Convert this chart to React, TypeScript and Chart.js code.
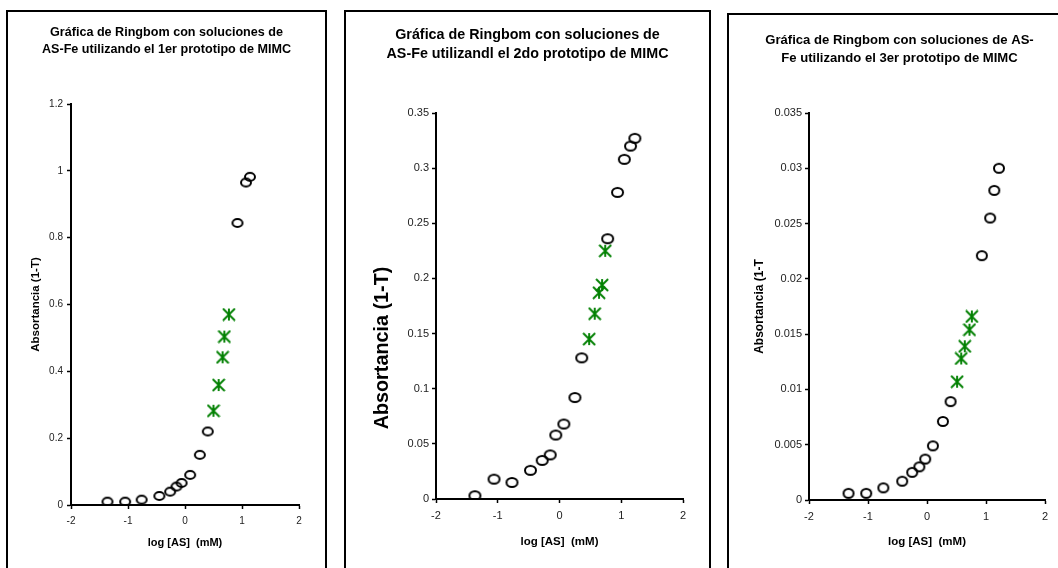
import React, { useEffect, useRef } from 'react';
import { Chart, registerables } from 'chart.js';

Chart.register(...registerables);

// ---------- data ----------
const xTicks = [-2, -1, 0, 1, 2];
const xTickLabels = ['-2', '-1', '0', '1', '2'];
const xTitle = 'log [AS]  (mM)';

const p1Title = ['Gráfica de Ringbom con soluciones de', 'AS-Fe utilizando el 1er prototipo de MIMC'];
const p1YTitle = 'Absortancia (1-T)';
const p1YTicks = [0, 0.2, 0.4, 0.6, 0.8, 1, 1.2];
const p1YTickLabels = ['0', '0.2', '0.4', '0.6', '0.8', '1', '1.2'];
const p1CircleX = [-1.36, -1.05, -0.76, -0.45, -0.26, -0.15, -0.06, 0.09, 0.26, 0.40, 0.92, 1.07, 1.14];
const p1CircleY = [0.010, 0.010, 0.016, 0.027, 0.040, 0.055, 0.066, 0.090, 0.150, 0.220, 0.844, 0.965, 0.982];
const p1StarX = [0.50, 0.59, 0.66, 0.69, 0.77];
const p1StarY = [0.282, 0.359, 0.442, 0.504, 0.570];

const p2Title = ['Gráfica de Ringbom con soluciones de', 'AS-Fe utilizandl el 2do prototipo de MIMC'];
const p2YTitle = 'Absortancia (1-T)';
const p2YTicks = [0, 0.05, 0.1, 0.15, 0.2, 0.25, 0.3, 0.35];
const p2YTickLabels = ['0', '0.05', '0.1', '0.15', '0.2', '0.25', '0.3', '0.35'];
const p2CircleX = [-1.37, -1.06, -0.77, -0.47, -0.28, -0.15, -0.06, 0.07, 0.25, 0.36, 0.78, 0.94, 1.05, 1.15, 1.22];
const p2CircleY = [0.003, 0.018, 0.015, 0.026, 0.035, 0.040, 0.058, 0.068, 0.092, 0.128, 0.236, 0.278, 0.308, 0.320, 0.327];
const p2StarX = [0.48, 0.57, 0.64, 0.69, 0.74];
const p2StarY = [0.145, 0.168, 0.187, 0.194, 0.225];

const p3Title = ['Gráfica de Ringbom con soluciones de AS-', 'Fe utilizando el 3er prototipo de MIMC'];
const p3YTitle = 'Absortancia (1-T';
const p3YTicks = [0, 0.005, 0.01, 0.015, 0.02, 0.025, 0.03, 0.035];
const p3YTickLabels = ['0', '0.005', '0.01', '0.015', '0.02', '0.025', '0.03', '0.035'];
const p3CircleX = [-1.33, -1.03, -0.74, -0.42, -0.25, -0.13, -0.03, 0.10, 0.27, 0.40, 0.93, 1.07, 1.14, 1.22];
const p3CircleY = [0.0006, 0.0006, 0.0011, 0.0017, 0.0025, 0.0030, 0.0037, 0.0049, 0.0071, 0.0089, 0.0221, 0.0255, 0.0280, 0.0300];
const p3StarX = [0.51, 0.58, 0.64, 0.72, 0.76];
const p3StarY = [0.0107, 0.0128, 0.0139, 0.0154, 0.0166];

// ---------- layout / style ----------
const FAMILY = '"Liberation Sans", Arial, Helvetica, sans-serif';
const GREEN = '#008000';

type Panel = {
  title: string[]; yTitle: string; yTicks: number[]; yTickLabels: string[]; yMax: number;
  cx: number[]; cy: number[]; sx: number[]; sy: number[];
  box: { left: number; top: number; width: number };
  canvas: { left: number; top: number; width: number; height: number };
  area: { left: number; right: number; top: number; bottom: number };
  titleFont: number; titleLH: number; titlePadTop: number;
  tickFont: number; tickPad: number; xTickPad: number;
  yTitleFont: number; yTitleX: number; yTitleY: number | null;
  xTitleFont: number; xTitleCenterFromBottom: number;
  circle: [number, number];
};

const panels: Panel[] = [
  {
    title: p1Title, yTitle: p1YTitle, yTicks: p1YTicks, yTickLabels: p1YTickLabels, yMax: 1.2,
    cx: p1CircleX, cy: p1CircleY, sx: p1StarX, sy: p1StarY,
    box: { left: 6, top: 10, width: 321 },
    canvas: { left: 8, top: 12, width: 317, height: 556 },
    area: { left: 63, right: 291, top: 92, bottom: 493 },
    titleFont: 12.6, titleLH: 17, titlePadTop: 12.5,
    tickFont: 10, tickPad: 4, xTickPad: 6,
    yTitleFont: 11.5, yTitleX: 28, yTitleY: null,
    xTitleFont: 11, xTitleCenterFromBottom: 25,
    circle: [12, 10],
  },
  {
    title: p2Title, yTitle: p2YTitle, yTicks: p2YTicks, yTickLabels: p2YTickLabels, yMax: 0.35,
    cx: p2CircleX, cy: p2CircleY, sx: p2StarX, sy: p2StarY,
    box: { left: 344, top: 10, width: 367 },
    canvas: { left: 346, top: 12, width: 363, height: 556 },
    area: { left: 90, right: 337, top: 101, bottom: 487 },
    titleFont: 14.3, titleLH: 19.5, titlePadTop: 13,
    tickFont: 11, tickPad: 3, xTickPad: 6,
    yTitleFont: 19.8, yTitleX: 37, yTitleY: 336,
    xTitleFont: 11.5, xTitleCenterFromBottom: 26.3,
    circle: [13, 11],
  },
  {
    title: p3Title, yTitle: p3YTitle, yTicks: p3YTicks, yTickLabels: p3YTickLabels, yMax: 0.035,
    cx: p3CircleX, cy: p3CircleY, sx: p3StarX, sy: p3StarY,
    box: { left: 727, top: 13, width: 400 },
    canvas: { left: 729, top: 15, width: 341, height: 553 },
    area: { left: 80, right: 316, top: 98, bottom: 485 },
    titleFont: 13.1, titleLH: 18, titlePadTop: 16,
    tickFont: 11, tickPad: 3, xTickPad: 6,
    yTitleFont: 12, yTitleX: 31, yTitleY: null,
    xTitleFont: 11.5, xTitleCenterFromBottom: 26.3,
    circle: [12, 11],
  },
];

function ellipseMarker(w: number, h: number, lw: number) {
  const c = document.createElement('canvas');
  c.width = w + 2; c.height = h + 2;
  const ctx = c.getContext('2d')!;
  ctx.strokeStyle = '#000';
  ctx.lineWidth = lw;
  ctx.beginPath();
  ctx.ellipse(c.width / 2, c.height / 2, w / 2 - lw / 2, h / 2 - lw / 2, 0, 0, Math.PI * 2);
  ctx.stroke();
  return c;
}

function starMarker(w: number, h: number, lw: number) {
  const c = document.createElement('canvas');
  c.width = w + 2; c.height = h + 2;
  const ctx = c.getContext('2d')!;
  ctx.strokeStyle = GREEN;
  ctx.lineWidth = lw;
  ctx.lineCap = 'butt';
  const x0 = 1, y0 = 1, x1 = 1 + w, y1 = 1 + h;
  ctx.beginPath();
  ctx.moveTo(x0, y0); ctx.lineTo(x1, y1);
  ctx.moveTo(x1, y0); ctx.lineTo(x0, y1);
  ctx.moveTo((x0 + x1) / 2, y0); ctx.lineTo((x0 + x1) / 2, y1);
  ctx.stroke();
  return c;
}

// draws the rotated y-axis title at a given centre (canvas coords)
const yTitlePlugin = {
  id: 'yTitleText',
  afterDraw(chart: any, _args: any, opts: any) {
    if (!opts || !opts.text) return;
    const ctx = chart.ctx;
    const area = chart.chartArea;
    const cy = opts.y == null ? (area.top + area.bottom) / 2 : opts.y;
    ctx.save();
    ctx.translate(opts.x, cy);
    ctx.rotate(-Math.PI / 2);
    ctx.font = `bold ${opts.size}px ${FAMILY}`;
    ctx.fillStyle = '#000';
    ctx.textAlign = 'center';
    ctx.textBaseline = 'middle';
    ctx.fillText(opts.text, 0, 0);
    ctx.restore();
  },
};

function makeConfig(p: Panel): any {
  const xAxisH = p.canvas.height - p.area.bottom;
  const rightW = p.canvas.width - p.area.right;
  const titleBlock = p.titleLH * p.title.length;
  const titlePadBottom = p.area.top - p.titlePadTop - titleBlock;
  const xLH = p.xTitleFont * 1.2;
  const circleImg = ellipseMarker(p.circle[0], p.circle[1], 2);
  const starImg = starMarker(12, 12, 1.9);
  const tickFont = { family: FAMILY, size: p.tickFont };
  return {
    type: 'scatter',
    data: {
      datasets: [
        {
          data: p.cx.map((x, i) => ({ x, y: p.cy[i] })),
          pointStyle: circleImg, pointRadius: 5, showLine: false,
        },
        {
          data: p.sx.map((x, i) => ({ x, y: p.sy[i] })),
          pointStyle: starImg, pointRadius: 5, showLine: false,
        },
      ],
    },
    options: {
      responsive: false,
      animation: false,
      events: [],
      devicePixelRatio: 1,
      layout: { padding: 0 },
      plugins: {
        legend: { display: false },
        tooltip: { enabled: false },
        title: {
          display: true,
          text: p.title,
          color: '#000',
          font: { family: FAMILY, size: p.titleFont, weight: 'bold', lineHeight: p.titleLH + 'px' },
          padding: { top: p.titlePadTop, bottom: titlePadBottom },
        },
        yTitleText: { text: p.yTitle, size: p.yTitleFont, x: p.yTitleX, y: p.yTitleY },
      },
      scales: {
        x: {
          type: 'linear', position: 'bottom', min: -2, max: 2,
          afterBuildTicks: (s: any) => { s.ticks = xTicks.map((v) => ({ value: v })); },
          afterFit: (s: any) => { s.height = xAxisH; },
          ticks: {
            callback: (_v: any, i: number) => xTickLabels[i],
            font: tickFont, color: '#222', padding: p.xTickPad, maxRotation: 0, autoSkip: false,
          },
          grid: { display: true, drawOnChartArea: false, drawTicks: true, tickLength: 4, tickWidth: 1.5, tickColor: '#000' },
          border: { display: true, color: '#000', width: 2 },
          title: {
            display: true, text: xTitle, color: '#000',
            font: { family: FAMILY, size: p.xTitleFont, weight: 'bold', lineHeight: 1.2 },
            padding: { top: 0, bottom: p.xTitleCenterFromBottom - xLH / 2 },
          },
        },
        y: {
          type: 'linear', position: 'left', min: 0, max: p.yMax,
          afterBuildTicks: (s: any) => { s.ticks = p.yTicks.map((v) => ({ value: v })); },
          afterFit: (s: any) => { s.width = p.area.left; },
          ticks: {
            callback: (_v: any, i: number) => p.yTickLabels[i],
            font: tickFont, color: '#222', padding: p.tickPad, autoSkip: false,
          },
          grid: { display: true, drawOnChartArea: false, drawTicks: true, tickLength: 4, tickWidth: 1.5, tickColor: '#000' },
          border: { display: true, color: '#000', width: 2 },
          title: { display: false },
        },
        // empty right-hand spacer so the title stays centred on the whole panel
        spacer: {
          type: 'linear', position: 'right', min: 0, max: 1, display: true,
          afterFit: (s: any) => { s.width = rightW; },
          ticks: { display: false },
          grid: { display: false, drawTicks: false },
          border: { display: false },
          title: { display: false },
        },
      },
    },
    plugins: [yTitlePlugin],
  };
}

export default function App() {
  const refs = [useRef<HTMLCanvasElement>(null), useRef<HTMLCanvasElement>(null), useRef<HTMLCanvasElement>(null)];

  useEffect(() => {
    const charts = panels.map((p, i) => new Chart(refs[i].current!, makeConfig(p)));
    return () => charts.forEach((c) => c.destroy());
  }, []);

  return (
    <div style={{ position: 'absolute', left: 0, top: 0, width: 1058, height: 568, overflow: 'hidden', background: '#fff' }}>
      {panels.map((p, i) => (
        <div
          key={'b' + i}
          style={{
            position: 'absolute', left: p.box.left, top: p.box.top, width: p.box.width, height: 640,
            border: '2px solid #000', boxSizing: 'border-box', background: '#fff',
          }}
        />
      ))}
      {panels.map((p, i) => (
        <canvas
          key={'c' + i}
          ref={refs[i]}
          width={p.canvas.width}
          height={p.canvas.height}
          style={{ position: 'absolute', left: p.canvas.left, top: p.canvas.top, width: p.canvas.width, height: p.canvas.height }}
        />
      ))}
    </div>
  );
}
